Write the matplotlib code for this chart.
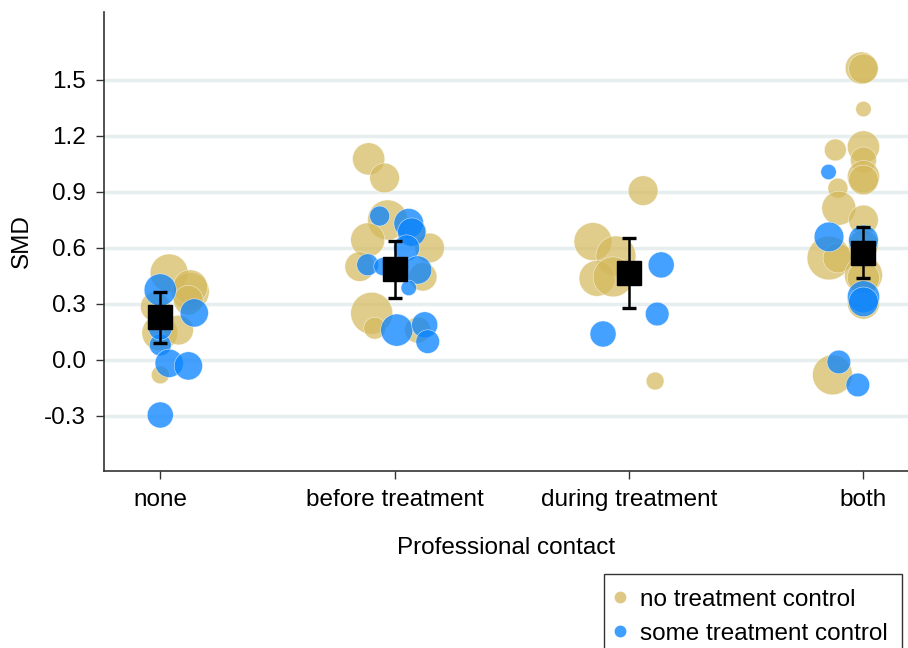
#  bubble plot of SMD by professional contact, with pooled means
import numpy as np
import matplotlib.pyplot as plt
from matplotlib.lines import Line2D

plt.rcParams['font.family'] = ['Liberation Sans', 'DejaVu Sans']

categories = ['none', 'before treatment', 'during treatment', 'both']
ytick_vals = [-0.3, 0.0, 0.3, 0.6, 0.9, 1.2, 1.5]
ytick_labels = ['-0.3', '0.0', '0.3', '0.6', '0.9', '1.2', '1.5']

# no treatment control studies: category index, jitter, SMD, weight
ntc_cat = [0, 0, 0, 0, 0, 0, 0, 0,
           1, 1, 1, 1, 1, 1, 1, 1, 1, 1, 1,
           2, 2, 2, 2, 2, 2,
           3, 3, 3, 3, 3, 3, 3, 3, 3, 3, 3, 3, 3, 3, 3, 3, 3, 3]
ntc_jit = [0.038, 0.128, -0.021, -0.002, 0.078, 0.0, 0.128, 0.120,
           -0.111, -0.043, -0.030, -0.115, 0.073, 0.149, -0.149, 0.120, -0.098, -0.085, 0.098,
           0.060, -0.154, -0.056, -0.137, -0.068, 0.111,
           -0.009, 0.0, 0.0, -0.120, 0.0, 0.0, 0.0, 0.0, -0.109, -0.105, 0.0, -0.147, -0.109,
           0.0, 0.0, -0.132, 0.0, 0.0]
ntc_smd = [0.466, 0.366, 0.285, 0.145, 0.16, -0.08, 0.39, 0.32,
           1.077, 0.975, 0.75, 0.643, 0.685, 0.6, 0.5, 0.445, 0.25, 0.17, 0.16,
           0.907, 0.634, 0.557, 0.437, 0.445, -0.113,
           1.564, 1.56, 1.344, 1.125, 1.141, 1.071, 0.982, 0.964, 0.92, 0.813, 0.75, 0.546, 0.546,
           0.455, 0.305, -0.08, 0.616, 0.44]
ntc_w = [3.6, 3.6, 2.2, 3.2, 2.2, 0.8, 3.0, 2.2,
         2.6, 2.2, 4.0, 2.9, 2.2, 2.2, 2.2, 2.0, 4.4, 1.2, 1.7,
         2.2, 3.6, 4.0, 3.2, 4.0, 0.8,
         2.6, 2.2, 0.6, 1.2, 2.6, 1.7, 2.6, 2.2, 1.0, 2.9, 2.2, 4.8, 2.2,
         3.6, 2.6, 4.0, 2.2, 2.6]

# some treatment control studies
stc_cat = [0, 0, 0, 0, 0, 0, 0,
           1, 1, 1, 1, 1, 1, 1, 1, 1, 1, 1,
           2, 2, 2,
           3, 3, 3, 3, 3, 3, 3]
stc_jit = [0.0, 0.145, 0.0, 0.038, 0.120, 0.0, 0.0,
           -0.064, 0.060, 0.073, 0.051, -0.115, 0.098, 0.060, 0.009, 0.128, 0.141, -0.051,
           0.137, 0.120, -0.111,
           -0.149, -0.147, 0.0, 0.0, 0.0, -0.105, -0.024]
stc_smd = [0.375, 0.252, 0.08, -0.018, -0.032, -0.295, 0.17,
           0.771, 0.732, 0.685, 0.6, 0.51, 0.482, 0.386, 0.16, 0.188, 0.098, 0.5,
           0.509, 0.246, 0.139,
           1.007, 0.659, 0.643, 0.338, 0.311, -0.011, -0.134]
stc_w = [2.6, 2.0, 1.2, 2.0, 2.0, 1.7, 1.4,
         1.0, 2.2, 2.0, 1.7, 1.2, 2.0, 0.6, 2.6, 1.7, 1.4, 0.8,
         1.7, 1.4, 1.7,
         0.6, 2.2, 2.2, 2.6, 2.2, 1.4, 1.4]

# pooled estimate per category with 95% CI
mean_smd = [0.229, 0.486, 0.468, 0.575]
ci_low = [0.09, 0.33, 0.28, 0.437]
ci_high = [0.364, 0.637, 0.652, 0.711]

gold = '#D4B85A'
blue = '#0A84FF'

fig = plt.figure(figsize=(9.08, 6.48), dpi=100)
ax = fig.add_axes([104/908, 1-471/648, 1-104/908, (471-12)/648])

x_pos = np.arange(1, len(categories)+1)

ax.scatter(np.array(ntc_cat)+1+np.array(ntc_jit), ntc_smd, s=np.array(ntc_w)*207,
           color=gold, alpha=0.7, edgecolors='white', linewidths=0.4, zorder=3)
ax.scatter(np.array(stc_cat)+1+np.array(stc_jit), stc_smd, s=np.array(stc_w)*207,
           color=blue, alpha=0.76, edgecolors='white', linewidths=0.4, zorder=4)

yerr = [np.array(mean_smd)-np.array(ci_low), np.array(ci_high)-np.array(mean_smd)]
ax.errorbar(x_pos, mean_smd, yerr=yerr, fmt='s', color='black', ms=17,
            elinewidth=1.8, capsize=5, capthick=2.4, zorder=6)

ax.set_xlim(0.76, 4.19)
ax.set_ylim(-0.595, 1.864)
ax.set_xticks(x_pos)
ax.set_xticklabels(categories)
ax.set_yticks(ytick_vals)
ax.set_yticklabels(ytick_labels)
ax.tick_params(axis='both', labelsize=17.5, length=6, width=1, color='#333333', pad=7)
ax.grid(axis='y', color='#E6EEF0', linewidth=2.5, zorder=0)
ax.set_axisbelow(True)

for side in ['top', 'right']:
    ax.spines[side].set_visible(False)
for side in ['left', 'bottom']:
    ax.spines[side].set_linewidth(1.2)
    ax.spines[side].set_color('#333333')

ax.set_ylabel('SMD', fontsize=17.5, labelpad=8)
ax.set_xlabel('Professional contact', fontsize=17.5, labelpad=19)

handles = [Line2D([], [], marker='o', ls='', color='#DFC885', ms=7.5),
           Line2D([], [], marker='o', ls='', color='#3F9FFF', ms=7.5)]
leg = fig.legend(handles, ['no treatment control', 'some treatment control'],
                 loc='upper left', bbox_to_anchor=(604/908, 1-574/648), fontsize=17.5,
                 frameon=True, fancybox=False, edgecolor='black', handlelength=0.1,
                 handletextpad=0.78, labelspacing=0.5, borderpad=0.6, borderaxespad=0)
leg.get_frame().set_linewidth(1.0)

plt.savefig('out.png', dpi=100)
